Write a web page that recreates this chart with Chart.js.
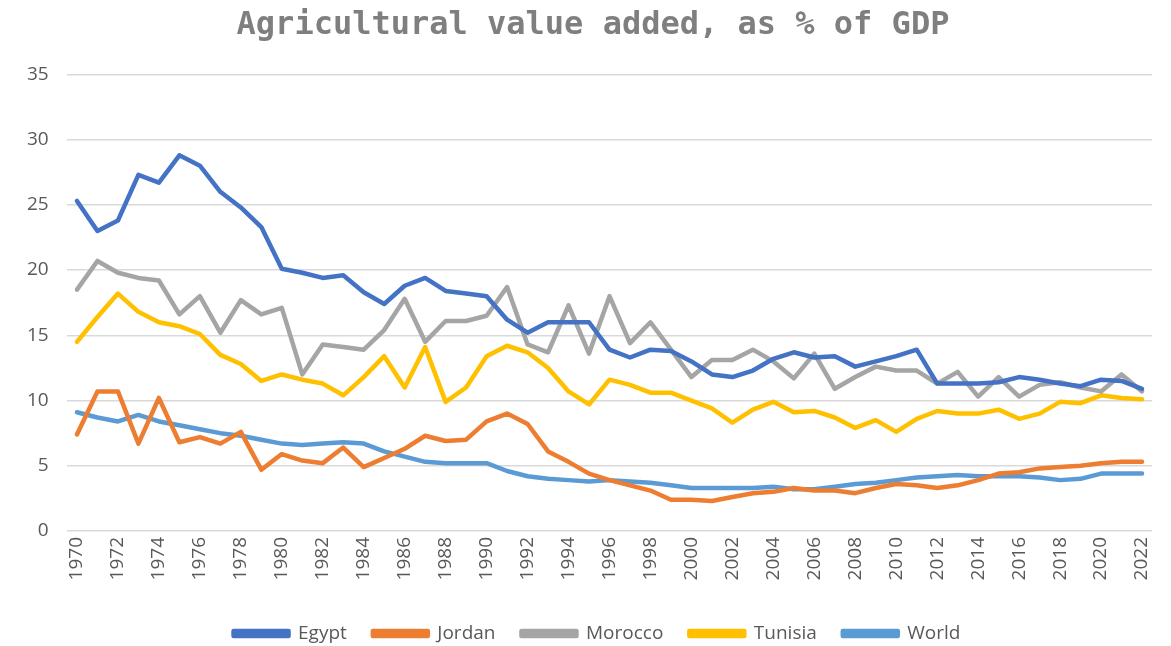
<!DOCTYPE html>
<html>
<head>
<meta charset="utf-8">
<script src="https://cdn.jsdelivr.net/npm/chart.js@4"></script>
<style>
  html, body { margin: 0; padding: 0; background: #fff; }
  #wrap { width: 1171px; height: 646px; }
</style>
</head>
<body>
<div id="wrap"><canvas id="chart" width="1171" height="646"></canvas></div>
<script>
// years on the category axis
const years = [];
for (let y = 1970; y <= 2022; y++) years.push(String(y));

const yTicks = [0, 5, 10, 15, 20, 25, 30, 35];

// agricultural value added, % of GDP
const egypt = [25.3, 23.0, 23.8, 27.3, 26.7, 28.8, 28.0, 26.0, 24.8, 23.3,
  20.1, 19.8, 19.4, 19.6, 18.3, 17.4, 18.8, 19.4, 18.4, 18.2,
  18.0, 16.2, 15.2, 16.0, 16.0, 16.0, 13.9, 13.3, 13.9, 13.8,
  13.0, 12.0, 11.8, 12.3, 13.2, 13.7, 13.3, 13.4, 12.6, 13.0,
  13.4, 13.9, 11.3, 11.3, 11.3, 11.4, 11.8, 11.6, 11.3, 11.1,
  11.6, 11.5, 10.9];
const jordan = [7.4, 10.7, 10.7, 6.7, 10.2, 6.8, 7.2, 6.7, 7.6, 4.7,
  5.9, 5.4, 5.2, 6.4, 4.9, 5.6, 6.3, 7.3, 6.9, 7.0,
  8.4, 9.0, 8.2, 6.1, 5.3, 4.4, 3.9, 3.5, 3.1, 2.4,
  2.4, 2.3, 2.6, 2.9, 3.0, 3.3, 3.1, 3.1, 2.9, 3.3,
  3.6, 3.5, 3.3, 3.5, 3.9, 4.4, 4.5, 4.8, 4.9, 5.0,
  5.2, 5.3, 5.3];
const morocco = [18.5, 20.7, 19.8, 19.4, 19.2, 16.6, 18.0, 15.2, 17.7, 16.6,
  17.1, 12.0, 14.3, 14.1, 13.9, 15.4, 17.8, 14.5, 16.1, 16.1,
  16.5, 18.7, 14.3, 13.7, 17.3, 13.6, 18.0, 14.4, 16.0, 13.9,
  11.8, 13.1, 13.1, 13.9, 13.0, 11.7, 13.6, 10.9, 11.8, 12.6,
  12.3, 12.3, 11.3, 12.2, 10.3, 11.8, 10.3, 11.2, 11.4, 11.0,
  10.7, 12.0, 10.7];
const tunisia = [14.5, 16.4, 18.2, 16.8, 16.0, 15.7, 15.1, 13.5, 12.8, 11.5,
  12.0, 11.6, 11.3, 10.4, 11.8, 13.4, 11.0, 14.1, 9.9, 11.0,
  13.4, 14.2, 13.7, 12.5, 10.7, 9.7, 11.6, 11.2, 10.6, 10.6,
  10.0, 9.4, 8.3, 9.3, 9.9, 9.1, 9.2, 8.7, 7.9, 8.5,
  7.6, 8.6, 9.2, 9.0, 9.0, 9.3, 8.6, 9.0, 9.9, 9.8,
  10.4, 10.2, 10.1];
const world = [9.1, 8.7, 8.4, 8.9, 8.4, 8.1, 7.8, 7.5, 7.3, 7.0,
  6.7, 6.6, 6.7, 6.8, 6.7, 6.1, 5.7, 5.3, 5.2, 5.2,
  5.2, 4.6, 4.2, 4.0, 3.9, 3.8, 3.9, 3.8, 3.7, 3.5,
  3.3, 3.3, 3.3, 3.3, 3.4, 3.2, 3.2, 3.4, 3.6, 3.7,
  3.9, 4.1, 4.2, 4.3, 4.2, 4.2, 4.2, 4.1, 3.9, 4.0,
  4.4, 4.4, 4.4];

const seriesNames = ['Egypt', 'Jordan', 'Morocco', 'Tunisia', 'World'];
const seriesData = [egypt, jordan, morocco, tunisia, world];
const seriesColors = ['#4472C4', '#ED7D31', '#A5A5A5', '#FFC000', '#5B9BD5'];

const labelFont = "'Open Sans', 'Liberation Sans', sans-serif";

// the title and legend sit a little right of the canvas centre in the original
const nudgeBlocks = {
    id: 'nudgeBlocks',
    afterLayout(chart) {
        if (chart.titleBlock) { chart.titleBlock.left += 12; chart.titleBlock.right += 12; }
        if (chart.legend) { chart.legend.left += 16; chart.legend.right += 16; }
    }
};

new Chart(document.getElementById('chart'), {
    type: 'line',
    data: {
        labels: years,
        datasets: seriesNames.map((name, i) => ({
            label: name,
            data: seriesData[i],
            borderColor: seriesColors[i],
            backgroundColor: seriesColors[i],
            borderWidth: 4.5,
            pointRadius: 0,
            tension: 0,
            borderCapStyle: 'round',
            borderJoinStyle: 'round',
            fill: false
        }))
    },
    plugins: [nudgeBlocks],
    options: {
        responsive: false,
        animation: false,
        layout: {
            padding: { left: 9, right: 18, top: 4, bottom: -7 }
        },
        plugins: {
            title: {
                display: true,
                text: 'Agricultural value added, as % of GDP',
                color: '#7F7F7F',
                font: { family: "'DejaVu Sans Mono', monospace", size: 32, weight: 'bold' },
                padding: { top: 2, bottom: 30 }
            },
            legend: {
                position: 'bottom',
                labels: {
                    color: '#595959',
                    // small line height keeps the legend row low in the canvas
                    font: { family: labelFont, size: 19, lineHeight: 0.4 },
                    boxWidth: 55,
                    boxHeight: 5,
                    padding: 26
                }
            },
            tooltip: { enabled: false }
        },
        scales: {
            x: {
                offset: true,
                grid: { display: false, drawTicks: false },
                border: { display: false },
                afterFit: scale => { scale.height = 67; },
                ticks: {
                    autoSkip: false,
                    minRotation: 90,
                    maxRotation: 90,
                    padding: 6,
                    color: '#595959',
                    font: { family: labelFont, size: 19 },
                    callback: function (value, index) {
                        return index % 2 === 0 ? this.getLabelForValue(value) : '';
                    }
                }
            },
            y: {
                min: yTicks[0],
                max: yTicks[yTicks.length - 1],
                afterBuildTicks: axis => { axis.ticks = yTicks.map(v => ({ value: v })); },
                grid: { color: '#D9D9D9', lineWidth: 1.5, drawTicks: false },
                border: { display: false },
                ticks: {
                    padding: 18,
                    color: '#595959',
                    font: { family: labelFont, size: 19 }
                }
            }
        }
    }
});
</script>
</body>
</html>
